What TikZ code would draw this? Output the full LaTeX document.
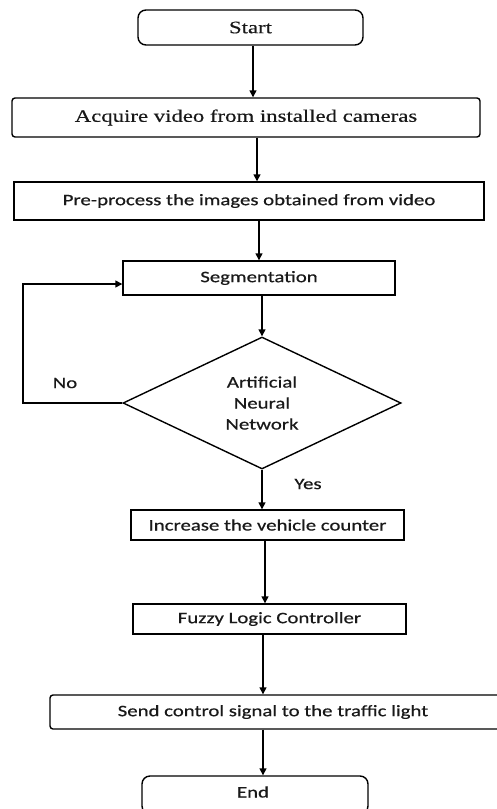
\documentclass[tikz,border=0pt]{standalone}
\usepackage{fontspec}
\newfontfamily\sansw[FakeStretch=1.3,FakeBold=0.6]{Carlito}
\newfontfamily\serifw[FakeStretch=1.3,FakeBold=0.4]{Liberation Serif}
\usetikzlibrary{shapes.geometric,arrows.meta}
\begin{document}
\begin{tikzpicture}[x=1pt,y=-1pt,
  box/.style={draw, line width=1.4pt, inner sep=0pt, text=black!90},
  sbox/.style={box, font=\sansw\fontsize{16}{20}\selectfont},
  rbox/.style={box, font=\serifw\fontsize{17.5}{21}\selectfont},
  arr/.style={line width=1.4pt, -{Triangle[length=7pt,width=7pt]}},
  lbl/.style={font=\sansw\fontsize{16}{20}\selectfont, text=black!90}]
\useasboundingbox (0,0) rectangle (496,809);
\node[rbox, rounded corners=8pt, minimum width=225pt, minimum height=35pt] (start) at (250.5,27.5) {Start};
\node[rbox, rounded corners=3pt, minimum width=468pt, minimum height=39pt] (acq) at (246,117.5) {Acquire video from installed cameras};
\node[sbox, minimum width=470pt, minimum height=38pt] (pre) at (249,201) {Pre-process the images obtained from video};
\node[sbox, minimum width=272pt, minimum height=34pt] (seg) at (259,278) {Segmentation};
\node[box, diamond, aspect=2.1, minimum width=278pt, minimum height=132pt, align=center,
  font=\sansw\fontsize{16}{21}\selectfont] (ann) at (262,403) {Artificial\\Neural\\Network};
\node[sbox, minimum width=273pt, minimum height=30pt] (inc) at (267.5,525) {Increase the vehicle counter};
\node[sbox, minimum width=273pt, minimum height=30pt] (fuz) at (269.5,619) {Fuzzy Logic Controller};
\node[sbox, rounded corners=3pt, minimum width=456pt, minimum height=34pt] (send) at (278,712) {};
\node[lbl] (sendt) at (273,712) {Send control signal to the traffic light};
\node[sbox, rounded corners=8pt, minimum width=226pt, minimum height=38pt] (endn) at (255,795) {};
\node[lbl] (endt) at (253,792) {End};
\node[lbl] (no) at (65,383) {No};
\node[lbl] (yes) at (308,484) {Yes};
\coordinate (x1) at (253,0);
\coordinate (x2) at (257,0);
\coordinate (x3) at (259,0);
\coordinate (x5) at (263,0);
\coordinate (x6) at (265,0);
\coordinate (nl) at (23,284);
\draw[arr] (start.south -| x1) -- (acq.north -| x1);
\draw[arr] (acq.south -| x2) -- (pre.north -| x2);
\draw[arr] (pre.south -| x3) -- (seg.north -| x3);
\draw[arr] (seg.south -| ann.north) -- (ann.north);
\draw[arr] (ann.south) -- (inc.north -| ann.south);
\draw[arr] (inc.south -| x6) -- (fuz.north -| x6);
\draw[arr] (fuz.south -| x5) -- (send.north -| x5);
\draw[arr] (send.south -| x5) -- (endn.north -| x5);
\draw[arr] (ann.west) -| (nl) -- (seg.west |- nl);
\end{tikzpicture}
\end{document}
